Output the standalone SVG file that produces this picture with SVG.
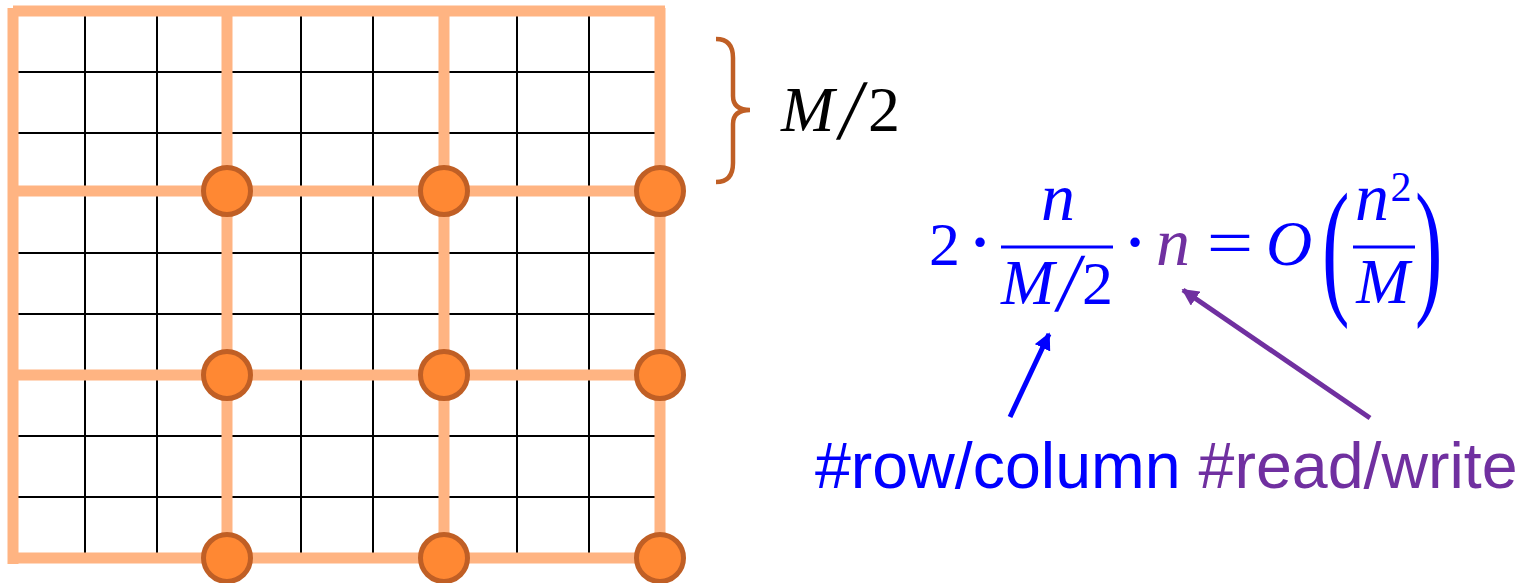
<svg xmlns="http://www.w3.org/2000/svg" width="1534" height="583" viewBox="0 0 1534 583">
<style>
.thin{stroke:#000;stroke-width:2;fill:none}
.thick{stroke:#FFB482;stroke-width:11;fill:none;stroke-linecap:butt}
.node{fill:#FF8833;stroke:#C05F25;stroke-width:5}
.math{font-family:"Liberation Serif",serif;font-style:italic}
.up{font-family:"Liberation Serif",serif;font-style:normal}
.blue{fill:#0000FF}
.purple{fill:#7030A0}
.lbl{font-family:"Liberation Sans",Arial,sans-serif;font-size:64.5px}
</style>
<defs>
<marker id="ahBlue" viewBox="0 0 10 10" refX="9" refY="5" markerWidth="3.4" markerHeight="3.4" orient="auto" markerUnits="strokeWidth">
<path d="M0,0 L10,5 L0,10 z" fill="#0000FF"/>
</marker>
<marker id="ahPurple" viewBox="0 0 10 10" refX="9" refY="5" markerWidth="3.4" markerHeight="3.4" orient="auto" markerUnits="strokeWidth">
<path d="M0,0 L10,5 L0,10 z" fill="#7030A0"/>
</marker>
</defs>
<rect width="1534" height="583" fill="#fff"/>
<g id="grid">
<g class="thin">
<line x1="85" y1="11" x2="85" y2="558"/>
<line x1="157" y1="11" x2="157" y2="558"/>
<line x1="301" y1="11" x2="301" y2="558"/>
<line x1="373" y1="11" x2="373" y2="558"/>
<line x1="517" y1="11" x2="517" y2="558"/>
<line x1="589" y1="11" x2="589" y2="558"/>
<line x1="13" y1="72" x2="660" y2="72"/>
<line x1="13" y1="133" x2="660" y2="133"/>
<line x1="13" y1="253" x2="660" y2="253"/>
<line x1="13" y1="314" x2="660" y2="314"/>
<line x1="13" y1="436" x2="660" y2="436"/>
<line x1="13" y1="497" x2="660" y2="497"/>
</g>
<g class="thick">
<line x1="13" y1="11" x2="665" y2="11"/>
<line x1="13" y1="8" x2="13" y2="564"/>
<line x1="660" y1="8" x2="660" y2="558"/>
<line x1="13" y1="558" x2="660" y2="558"/>
<line x1="227" y1="11" x2="227" y2="558"/>
<line x1="444" y1="11" x2="444" y2="558"/>
<line x1="13" y1="191" x2="660" y2="191"/>
<line x1="13" y1="375" x2="660" y2="375"/>
</g>
</g>
<g id="nodes">
<circle id="n11" class="node" cx="227" cy="191" r="23.5"/>
<circle id="n12" class="node" cx="444" cy="191" r="23.5"/>
<circle id="n13" class="node" cx="660" cy="191" r="23.5"/>
<circle id="n21" class="node" cx="227" cy="375" r="23.5"/>
<circle id="n22" class="node" cx="444" cy="375" r="23.5"/>
<circle id="n23" class="node" cx="660" cy="375" r="23.5"/>
<circle id="n31" class="node" cx="227" cy="558" r="23.5"/>
<circle id="n32" class="node" cx="444" cy="558" r="23.5"/>
<circle id="n33" class="node" cx="660" cy="558" r="23.5"/>
</g>
<g id="brace">
<path d="M716,39 Q733,39 733,58 L733,96 Q733,110 750,110 Q733,110 733,124 L733,163 Q733,182 716,182" fill="none" stroke="#C05F25" stroke-width="4.5"/>
<text class="math" font-size="64" fill="#000"><tspan x="781" y="131">M</tspan></text>
<text class="up" font-size="86" fill="#000" transform="translate(848,139) skewX(-8)" text-anchor="middle">/</text>
<text class="up" font-size="64" fill="#000" x="868" y="131">2</text>
</g>
<g id="formula" font-size="62">
<text class="up blue" x="929" y="265">2</text>
<text class="up blue" x="980" y="265" font-size="80" text-anchor="middle" dy="4">·</text>
<text class="math blue" x="1058" y="220" font-size="68" text-anchor="middle">n</text>
<line x1="1001" y1="247" x2="1113" y2="247" stroke="#0000FF" stroke-width="3"/>
<text class="math blue" x="1001" y="304" font-size="64">M</text>
<text class="up blue" font-size="84" transform="translate(1066,311) skewX(-8)" text-anchor="middle">/</text>
<text class="up blue" x="1082" y="304">2</text>
<text class="up blue" x="1135" y="265" font-size="80" text-anchor="middle" dy="4">·</text>
<text class="math purple" x="1173" y="265" font-size="68" text-anchor="middle">n</text>
<text class="up blue" font-size="66" text-anchor="middle" transform="translate(1230,265) scale(1.25,1)">=</text>
<text class="math blue" x="1289" y="265" font-size="64" text-anchor="middle">O</text>
<text class="up blue" font-size="150" transform="translate(1322,297) scale(0.55,1)">(</text>
<text class="math blue" x="1372" y="220" font-size="68" text-anchor="middle">n</text>
<text class="up blue" x="1401" y="201" font-size="42" text-anchor="middle">2</text>
<line x1="1353" y1="247" x2="1415" y2="247" stroke="#0000FF" stroke-width="3"/>
<text class="math blue" x="1383" y="303" font-size="64" text-anchor="middle">M</text>
<text class="up blue" font-size="150" transform="translate(1415,297) scale(0.55,1)">)</text>
</g>
<g id="connectors">
<line x1="1010" y1="417" x2="1049" y2="334" stroke="#0000FF" stroke-width="5" marker-end="url(#ahBlue)"/>
<line x1="1370" y1="418" x2="1183" y2="290" stroke="#7030A0" stroke-width="5" marker-end="url(#ahPurple)"/>
</g>
<g id="labels">
<text class="lbl" y="488"><tspan class="blue" x="815">#row/column</tspan> <tspan class="purple">#read/write</tspan></text>
</g>
</svg>
